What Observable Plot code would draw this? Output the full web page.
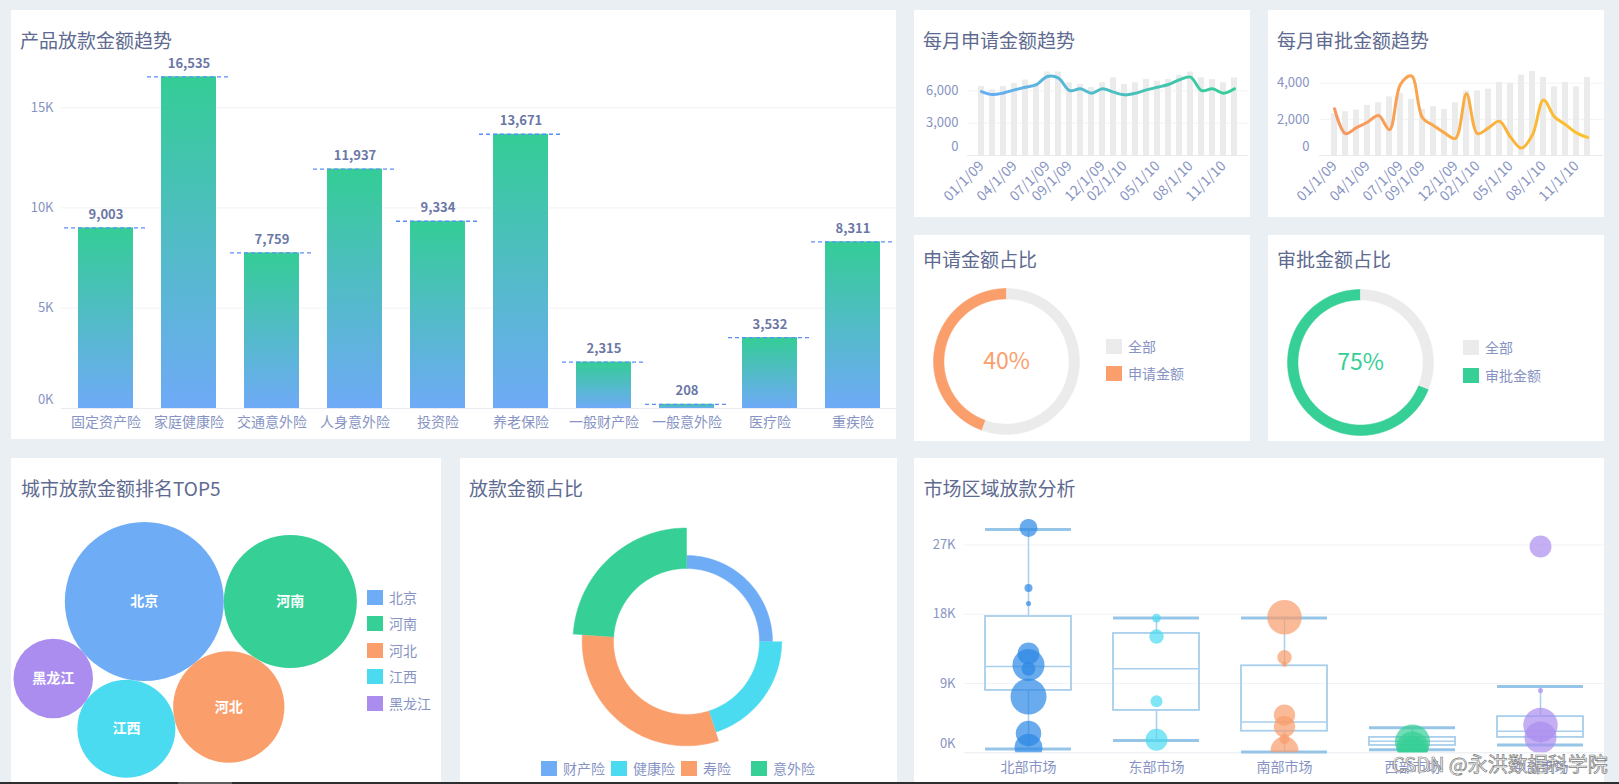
<!DOCTYPE html>
<html><head><meta charset="utf-8">
<script src="https://cdn.jsdelivr.net/npm/d3@7"></script>
<script src="https://cdn.jsdelivr.net/npm/@observablehq/plot@0.6"></script>
<style>
html,body{margin:0;padding:0;}
body{width:1619px;height:784px;background:#e9eff3;position:relative;overflow:hidden;font-family:"Noto Sans CJK SC","Noto Sans",sans-serif;}
.panel{position:absolute;background:#fff;overflow:hidden;}
.title{position:absolute;font-size:19px;line-height:19px;color:#5e6a90;white-space:nowrap;}
.plot{position:absolute;}
.lg{position:absolute;display:flex;align-items:center;height:15px;font-size:14px;color:#8794c3;white-space:nowrap;line-height:15px;}
.sw{width:16px;height:15px;margin-right:6px;flex:none;}
</style></head><body>
<div class="panel" id="pA" style="left:11px;top:10px;width:885px;height:429px"><div class="title" style="left:9px;top:19.5px">产品放款金额趋势</div></div>
<div class="panel" id="pB" style="left:914px;top:10px;width:336px;height:207px"><div class="title" style="left:9px;top:19.5px">每月申请金额趋势</div></div>
<div class="panel" id="pC" style="left:1268px;top:10px;width:336px;height:207px"><div class="title" style="left:9px;top:19.5px">每月审批金额趋势</div></div>
<div class="panel" id="pD" style="left:914px;top:235px;width:336px;height:206px"><div class="title" style="left:9px;top:13.5px">申请金额占比</div></div>
<div class="panel" id="pE" style="left:1268px;top:235px;width:336px;height:206px"><div class="title" style="left:9px;top:13.5px">审批金额占比</div></div>
<div class="panel" id="pF" style="left:11px;top:458px;width:430px;height:326px"><div class="title" style="left:10px;top:19.5px">城市放款金额排名TOP5</div></div>
<div class="panel" id="pG" style="left:460px;top:458px;width:437px;height:326px"><div class="title" style="left:9px;top:19.5px">放款金额占比</div></div>
<div class="panel" id="pH" style="left:914px;top:458px;width:690px;height:326px"><div class="title" style="left:9.5px;top:19.5px">市场区域放款分析</div></div>
<div id="wm" style="position:absolute;left:1392px;top:753px;font-size:20px;line-height:22px;color:#f6f6f6;-webkit-text-stroke:0.7px #7d7d7d;white-space:nowrap;">CSDN @永洪数据科学院</div>
<div style="position:absolute;left:0;top:782px;width:1619px;height:2px;background:#2e2e2e"></div>
<div style="position:absolute;left:178px;top:782px;width:54px;height:2px;background:#5c5c5c"></div>
<script>
// ---------------- DATA ----------------
const products = ["固定资产险","家庭健康险","交通意外险","人身意外险","投资险","养老保险","一般财产险","一般意外险","医疗险","重疾险"];
const loanAmounts = [9003,16535,7759,11937,9334,13671,2315,208,3532,8311];
const loanTicks = [0,5000,10000,15000];

const months = ["01/1/09","02/1/09","03/1/09","04/1/09","05/1/09","06/1/09","07/1/09","08/1/09","09/1/09","10/1/09","11/1/09","12/1/09",
                "01/1/10","02/1/10","03/1/10","04/1/10","05/1/10","06/1/10","07/1/10","08/1/10","09/1/10","10/1/10","11/1/10","12/1/10"];
const monthTicks = ["01/1/09","04/1/09","07/1/09","09/1/09","12/1/09","02/1/10","05/1/10","08/1/10","11/1/10"];
const applyBars = [6400,6100,6400,6700,7000,6700,7750,7750,6750,6600,6300,6750,7200,6600,6750,7050,6900,7050,7450,7750,7200,7050,6750,7200];
const applyLine = [5940,5660,5810,6090,6340,6590,7340,7190,6030,6190,5780,6190,5880,5630,5780,6090,6340,6590,7030,7280,6030,6190,5780,6190];
const applyTicks = [0,3000,6000];
const approveBars = [2310,2420,2510,2770,2920,3240,3440,3110,2550,2700,2550,2920,3570,3570,3670,4040,4000,4450,4650,4320,3800,4040,3800,4320];
const approveLine = [2590,1210,1540,1840,2210,1430,3940,4410,2080,1660,1250,950,3420,1210,1530,1900,1020,410,1150,3070,2140,1710,1250,1000];
const approveTicks = [0,2000,4000];

const applyShareNames = ["申请金额","全部"];
const applyShareArc = [44.5,55.5];
const applyShareLabel = "40%";
const approveShareNames = ["审批金额","全部"];
const approveShareArc = [69,31];
const approveShareLabel = "75%";

const cities = ["北京","河南","河北","江西","黑龙江"];
const cityLoans = [100,70,49,38,25];

const insTypes = ["财产险","健康险","寿险","意外险"];
const insShares = [25,20,31,24];

const markets = ["北部市场","东部市场","南部市场","西部市场","中部市场"];
const boxMin = [500,1600,100,400,1000];
const boxQ1 = [8100,5500,2800,950,2000];
const boxMedian = [11200,10900,4000,1500,2800];
const boxQ3 = [17700,15500,11300,2000,4700];
const boxMax = [29000,17500,17500,3250,8600];
const marketTicks = [0,9000,18000,27000];
const pointMarket = ["北部市场","北部市场","北部市场","北部市场","北部市场","北部市场","北部市场","北部市场","北部市场",
  "东部市场","东部市场","东部市场","东部市场",
  "南部市场","南部市场","南部市场","南部市场","南部市场","南部市场","南部市场",
  "西部市场","西部市场","西部市场",
  "中部市场","中部市场","中部市场","中部市场"];
const pointValue = [29200,21400,19400,12900,11400,10900,7300,2500,650,
  17500,15100,6700,1700,
  17600,12400,11500,4900,3400,1800,300,
  1400,700,300,
  26800,8100,3600,2000];
const pointWeight = [25,5,2,37,79,15,100,50,60,
  6,16,11,37,
  92,16,2,35,35,8,60,
  95,79,60,
  37,2,92,79];

// ---------------- STYLE ----------------
const FONT = '"Noto Sans CJK SC","Noto Sans",sans-serif';
const AXIS = "#8794c3";
const BLUE = "#6eacf6", GREEN = "#36cf96", ORANGE = "#fa9e6c", CYAN = "#4bdbf0", PURPLE = "#ab8def", GRAY = "#ebebeb";
const st = fs => ({fontFamily: FONT, fontSize: fs + "px", color: AXIS, background: "transparent", overflow: "visible", maxWidth: "none"});
const NS = "http://www.w3.org/2000/svg";
function addGradient(svg, id, stops, vertical) {
  let defs = svg.querySelector("defs");
  if (!defs) { defs = document.createElementNS(NS, "defs"); svg.insertBefore(defs, svg.firstChild); }
  const g = document.createElementNS(NS, "linearGradient");
  g.setAttribute("id", id);
  g.setAttribute("x1", "0"); g.setAttribute("y1", "0");
  g.setAttribute("x2", vertical ? "0" : "1"); g.setAttribute("y2", vertical ? "1" : "0");
  for (const [o, c] of stops) { const s = document.createElementNS(NS, "stop"); s.setAttribute("offset", o); s.setAttribute("stop-color", c); g.appendChild(s); }
  defs.appendChild(g);
}
function place(panelId, svg, left, top) {
  svg.classList.add("plot");
  svg.style.left = left + "px"; svg.style.top = top + "px"; svg.style.position = "absolute";
  document.getElementById(panelId).appendChild(svg);
}
function legend(panelId, items, positions) {
  items.forEach(([name, color], i) => {
    const d = document.createElement("div");
    d.className = "lg";
    d.style.left = positions[i][0] + "px"; d.style.top = (positions[i][1] - 7.5) + "px";
    d.innerHTML = `<span class="sw" style="background:${color}"></span><span>${name}</span>`;
    document.getElementById(panelId).appendChild(d);
  });
}
const fmtComma = d3.format(",");
function yLabels(ticks, fmt, dx) {
  return [
    Plot.text(ticks.filter(d => d > 0), {y: d => d, text: fmt, frameAnchor: "left", textAnchor: "end", dx, fill: AXIS, fontSize: 13}),
    Plot.text(ticks.filter(d => d === 0), {y: d => d, text: fmt, frameAnchor: "left", textAnchor: "end", dx, dy: -9, fill: AXIS, fontSize: 13})
  ];
}

// ---------------- A: bar chart ----------------
const dataA = products.map((p, i) => ({product: p, value: loanAmounts[i]}));
const svgA = Plot.plot({
  width: 885, height: 429, marginLeft: 50, marginRight: 0, marginTop: 61, marginBottom: 31,
  style: st(14),
  x: {domain: products, paddingInner: 0.34, paddingOuter: 0.17, tickSize: 0, tickPadding: 9, label: null},
  y: {domain: [0, 16800], axis: null},
  marks: [
    Plot.ruleY(loanTicks.filter(d => d > 0), {stroke: "#f1f3f6"}),
    Plot.ruleY([0], {stroke: "#e8ebf0"}),
    Plot.barY(dataA, {x: "product", y: "value", fill: "url(#gradA)"}),
    Plot.tickY(dataA, {x: "product", y: "value", stroke: "#5d8ef5", strokeWidth: 1.3, strokeDasharray: "4,3", insetLeft: -14, insetRight: -14}),
    Plot.text(dataA, {x: "product", y: "value", text: d => fmtComma(d.value), dy: -13, fill: "#6b77a6", fontWeight: "bold", fontSize: 13}),
    ...yLabels(loanTicks, d => d / 1000 + "K", -8)
  ]
});
addGradient(svgA, "gradA", [["0%", "#34cd96"], ["100%", "#6faaf7"]], true);
place("pA", svgA, 0, 0);

// ---------------- B / C: monthly bar + line ----------------
function monthly(bars, line, ticks, ymax, ml, mr, po, gradId) {
  const data = months.map((m, i) => ({month: m, bar: bars[i], line: line[i]}));
  return Plot.plot({
    width: 336, height: 207, marginLeft: ml, marginRight: mr, marginTop: 61, marginBottom: 62,
    style: st(14),
    x: {domain: months, paddingInner: 0.43, paddingOuter: po, tickSize: 0, tickPadding: 8, tickRotate: -45, ticks: monthTicks, label: null},
    y: {domain: [0, ymax], axis: null},
    marks: [
      Plot.ruleY(ticks.filter(d => d > 0), {stroke: "#f1f3f6"}),
      Plot.barY(data, {x: "month", y: "bar", fill: GRAY}),
      Plot.ruleY([0], {stroke: "#e8ebf0"}),
      Plot.line(data, {x: "month", y: "line", stroke: `url(#${gradId})`, strokeWidth: 3, curve: "catmull-rom"}),
      ...yLabels(ticks, d => fmtComma(d), ml === 53 ? -9 : -10)
    ]
  });
}
const svgB = monthly(applyBars, applyLine, applyTicks, 7800, 53, 2, 0.2, "gradB");
addGradient(svgB, "gradB", [["0%", "#66adf4"], ["100%", "#34cf94"]], false);
place("pB", svgB, 0, 0);
const svgC = monthly(approveBars, approveLine, approveTicks, 4650, 51, 1, 0.3, "gradC");
addGradient(svgC, "gradC", [["0%", "#f79662"], ["100%", "#fbc22b"]], false);
place("pC", svgC, 0, 0);

// ---------------- ring helpers ----------------
function arcPoints(a0, a1, r0, r1) {
  const n = Math.max(2, Math.ceil(Math.abs(a1 - a0)));
  const pts = [];
  for (let k = 0; k <= n; k++) { const a = (a0 + (a1 - a0) * k / n) * Math.PI / 180; pts.push([r1 * Math.sin(a), r1 * Math.cos(a)]); }
  for (let k = n; k >= 0; k--) { const a = (a0 + (a1 - a0) * k / n) * Math.PI / 180; pts.push([r0 * Math.sin(a), r0 * Math.cos(a)]); }
  return pts;
}
function ringMarks(values, colors, dir, r0, r1) {
  const total = d3.sum(values);
  let a = 0;
  return values.map((v, i) => {
    const a0 = a, a1 = a + dir * v / total * 360; a = a1;
    const pts = arcPoints(a0, a1, r0, typeof r1 === "function" ? r1(i) : r1);
    return Plot.line(pts, {x: d => d[0], y: d => d[1], fill: colors[i], stroke: colors[i], strokeWidth: 0.5, curve: "linear"});
  });
}
function donut(values, colors, label, labelColor) {
  return Plot.plot({
    width: 160, height: 160, margin: 0,
    style: st(14),
    x: {domain: [-80, 80], axis: null}, y: {domain: [-80, 80], axis: null},
    marks: [
      ...ringMarks(values, colors, -1, 62.5, 73),
      Plot.text([label], {frameAnchor: "middle", text: d => d, fill: labelColor, fontSize: 23})
    ]
  });
}
place("pD", donut(applyShareArc, [ORANGE, GRAY], applyShareLabel, ORANGE), 12, 46);
legend("pD", [["全部", GRAY], ["申请金额", ORANGE]], [[192, 111.5], [192, 138.5]]);
place("pE", donut(approveShareArc, [GREEN, GRAY], approveShareLabel, GREEN), 12, 47);
legend("pE", [["全部", GRAY], ["审批金额", GREEN]], [[195, 112], [195, 140]]);

// ---------------- F: bubbles ----------------
const rB = d3.scaleSqrt().domain([0, 100]).range([0, 79.5]);
const bub = cities.map((c, i) => ({city: c, value: cityLoans[i], r: rB(cityLoans[i])}));
bub[0].x = 0; bub[0].y = 0;
bub[1].x = bub[0].r + bub[1].r; bub[1].y = 0;
for (let i = 2; i < bub.length; i++) {
  const p = bub[i - 1], c = bub[i];
  const d0 = bub[0].r + c.r, d1 = p.r + c.r, dp = Math.hypot(p.x, p.y);
  const ang = Math.atan2(p.y, p.x) + Math.acos((dp * dp + d0 * d0 - d1 * d1) / (2 * dp * d0));
  c.x = d0 * Math.cos(ang); c.y = d0 * Math.sin(ang);
}
const minX = d3.min(bub, d => d.x - d.r), maxX = d3.max(bub, d => d.x + d.r);
const minY = d3.min(bub, d => d.y - d.r), maxY = d3.max(bub, d => d.y + d.r);
const cityColors = [BLUE, GREEN, ORANGE, CYAN, PURPLE];
const svgF = Plot.plot({
  width: 430, height: 326, margin: 0,
  style: st(14),
  x: {domain: [minX, maxX], range: [2, 2 + maxX - minX], axis: null},
  y: {domain: [minY, maxY], range: [63.5, 63.5 + maxY - minY], axis: null},
  r: {type: "sqrt", domain: [0, 100], range: [0, 79.5]},
  color: {domain: cities, range: cityColors},
  marks: [
    Plot.dot(bub, {x: "x", y: "y", r: "value", fill: "city"}),
    Plot.text(bub, {x: "x", y: "y", text: "city", fill: "#ffffff", fontSize: 14, fontWeight: "bold"})
  ]
});
place("pF", svgF, 0, 0);
legend("pF", cities.map((c, i) => [c, cityColors[i]]), [[356, 139], [356, 165.5], [356, 192], [356, 218.5], [356, 245]]);

// ---------------- G: rose ring ----------------
const insColors = [BLUE, CYAN, ORANGE, GREEN];
const outerR = d3.scaleLinear().domain([0, insTypes.length - 1]).range([86, 113.5]);
const svgG = Plot.plot({
  width: 240, height: 240, margin: 0,
  style: st(14),
  x: {domain: [-120, 120], axis: null}, y: {domain: [-120, 120], axis: null},
  marks: ringMarks(insShares, insColors, 1, 73, outerR)
});
place("pG", svgG, 106, 63);
legend("pG", insTypes.map((t, i) => [t, insColors[i]]), insTypes.map((t, i) => [81 + 70 * i, 310]));

// ---------------- H: boxplot + bubbles ----------------
const boxes = markets.map((m, i) => ({market: m, min: boxMin[i], q1: boxQ1[i], median: boxMedian[i], q3: boxQ3[i], max: boxMax[i]}));
const points = pointMarket.map((m, i) => ({market: m, value: pointValue[i], weight: pointWeight[i]}));
const BOX = "#a8cfec", CAP = "#97c5e8";
const svgH = Plot.plot({
  width: 690, height: 326, marginLeft: 49.5, marginRight: 0.5, marginTop: 61, marginBottom: 31.7,
  style: st(14),
  x: {domain: markets, paddingInner: 0.33, paddingOuter: 0.165, tickSize: 0, tickPadding: 9, label: null},
  y: {domain: [0, 30300], axis: null},
  r: {type: "sqrt", domain: [0, 100], range: [0, 18]},
  color: {domain: markets, range: ["#2b88e6", "#4adaf0", "#f99d6b", "#35ce95", "#ab8def"]},
  marks: [
    Plot.ruleY(marketTicks.filter(d => d > 0), {stroke: "#f1f3f6"}),
    Plot.ruleY([0], {stroke: "#e8ebf0"}),
    Plot.ruleX(boxes, {x: "market", y1: "min", y2: "q1", stroke: BOX, strokeWidth: 1.5}),
    Plot.ruleX(boxes, {x: "market", y1: "q3", y2: "max", stroke: BOX, strokeWidth: 1.5}),
    Plot.barY(boxes, {x: "market", y1: "q1", y2: "q3", fill: "none", stroke: BOX, strokeWidth: 1.8}),
    Plot.tickY(boxes, {x: "market", y: "median", stroke: BOX, strokeWidth: 1.5}),
    Plot.tickY(boxes, {x: "market", y: "min", stroke: CAP, strokeWidth: 3}),
    Plot.tickY(boxes, {x: "market", y: "max", stroke: CAP, strokeWidth: 3}),
    Plot.dot(points, {x: "market", y: "value", r: "weight", fill: "market", fillOpacity: 0.7, clip: true}),
    ...yLabels(marketTicks, d => d / 1000 + "K", -8.5)
  ]
});
place("pH", svgH, 0, 0);
</script>
</body></html>
